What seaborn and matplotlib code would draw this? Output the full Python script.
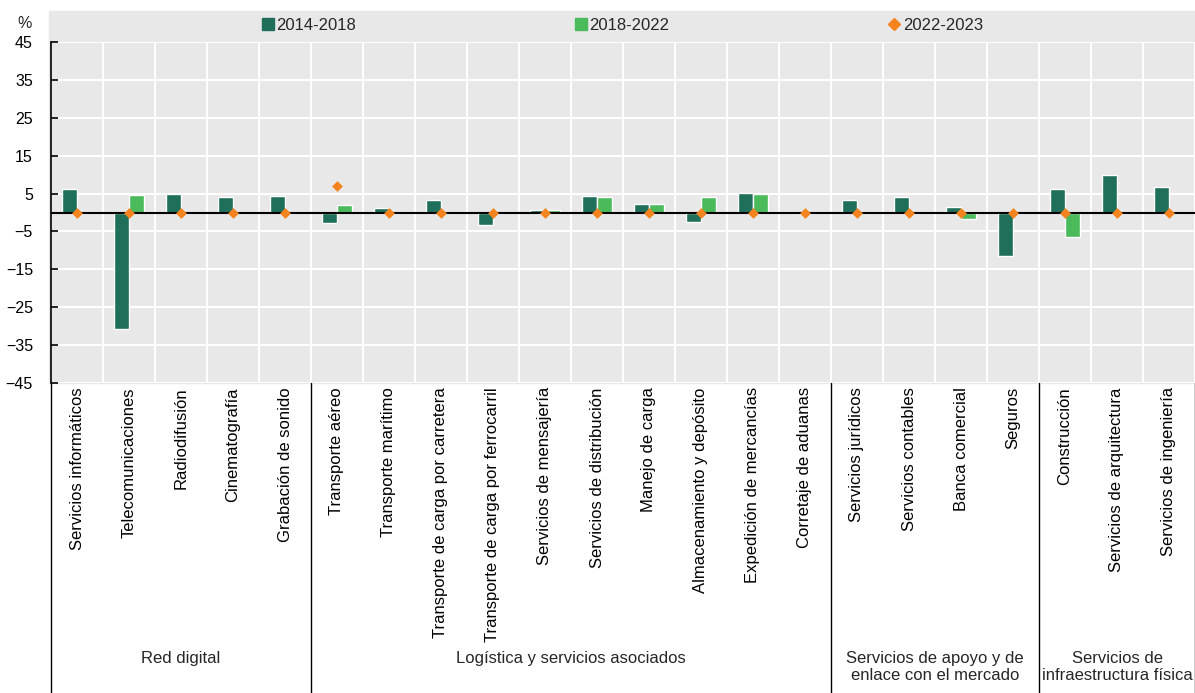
import numpy as np
import pandas as pd
import seaborn as sns
import matplotlib.pyplot as plt
from matplotlib.lines import Line2D
from matplotlib.patches import Rectangle

categories = [
    "Servicios informáticos", "Telecomunicaciones", "Radiodifusión", "Cinematografía",
    "Grabación de sonido", "Transporte aéreo", "Transporte marítimo",
    "Transporte de carga por carretera", "Transporte de carga por ferrocarril",
    "Servicios de mensajería", "Servicios de distribución", "Manejo de carga",
    "Almacenamiento y depósito", "Expedición de mercancías", "Corretaje de aduanas",
    "Servicios jurídicos", "Servicios contables", "Banca comercial", "Seguros",
    "Construcción", "Servicios de arquitectura", "Servicios de ingeniería",
]
group_names = [
    "Red digital", "Logística y servicios asociados",
    "Servicios de apoyo y de\nenlace con el mercado", "Servicios de\ninfraestructura física",
]
group_sizes = [5, 10, 4, 3]
periods = ["2014-2018", "2018-2022", "2022-2023"]

v_2014_2018 = [6.3, -30.8, 4.9, 4.2, 4.4, -2.8, 1.2, 3.2, -3.2, 0.7, 4.4,
               2.2, -2.6, 5.1, 0.0, 3.4, 4.2, 1.4, -11.4, 6.1, 9.8, 6.6]
v_2018_2022 = [0.0, 4.7, 0.0, 0.0, 0.0, 1.9, 0.0, 0.0, 0.0, 0.7, 4.1,
               2.2, 4.2, 4.8, 0.0, 0.0, 0.0, -1.6, 0.0, -6.5, 0.0, 0.0]
v_2022_2023 = [0.0, 0.0, 0.0, 0.0, 0.0, 6.9, 0.0, 0.0, 0.0, 0.0, 0.0,
               0.0, 0.0, 0.0, 0.0, 0.0, 0.0, 0.0, 0.0, 0.0, 0.0, 0.0]

DARK = "#1f6f5a"
LIGHT = "#4bba5a"
ORANGE = "#f5841f"
BG = "#e8e8e8"

sns.set_theme(style="white")
plt.rcParams["font.family"] = ["Liberation Sans", "DejaVu Sans"]

W, H = 1195, 693
fig = plt.figure(figsize=(W / 100, H / 100), dpi=100)
ax = fig.add_axes([51 / W, 1 - 383 / H, (W - 51) / W, 341 / H])
ax.set_facecolor(BG)
fig.patches.append(Rectangle((49 / W, 1 - 383 / H), 1, (383 - 11) / H,
                             transform=fig.transFigure, color=BG, zorder=-1))

df = pd.DataFrame({
    "cat": categories * 2,
    "period": [periods[0]] * len(categories) + [periods[1]] * len(categories),
    "val": v_2014_2018 + v_2018_2022,
})
sns.barplot(df, x="cat", y="val", hue="period", palette=[DARK, LIGHT],
            width=0.56, saturation=1, legend=False, ax=ax, zorder=3)
ax.axhline(0, color="black", lw=1.5, zorder=4)
sns.stripplot(x=categories, y=v_2022_2023, marker="D", color=ORANGE, size=5.5,
              jitter=False, linewidth=0, ax=ax, zorder=5)

n = len(categories)
ax.set_xlim(-0.5, n - 0.5)
ax.set_ylim(-45, 45)
ax.set_yticks(np.arange(-45, 46, 10))
ax.set_xticks(np.arange(-0.5, n, 1), minor=True)
ax.set_axisbelow(True)
ax.yaxis.grid(True, color="white", lw=1.5)
ax.grid(which="minor", axis="x", color="white", lw=1.5)
ax.set_xlabel("")
ax.set_ylabel("")

for s in ["top", "right", "bottom"]:
    ax.spines[s].set_visible(False)
ax.spines["left"].set_color("black")
ax.spines["left"].set_linewidth(1.2)
ax.tick_params(axis="y", direction="in", length=5, width=1.2, color="black",
               pad=13, labelsize=11.5, labelcolor="black", left=True)
ax.tick_params(axis="x", which="both", length=0, pad=3, labelsize=12,
               labelcolor="black", labelrotation=90)

fig.text(17 / W, 1 - 23 / H, "%", fontsize=11.5, va="center")

# group separators and labels below the axis
bounds = np.cumsum([0] + group_sizes) - 0.5
tr = ax.get_xaxis_transform()
ybot = -(H - 383) / 341
for b in bounds:
    ax.plot([b, b], [0, ybot], transform=tr, color="black", lw=1, clip_on=False)
for i, name in enumerate(group_names):
    xc = (bounds[i] + bounds[i + 1]) / 2
    ax.text(xc, -(651 - 383) / 341, name, transform=tr, ha="center", va="top",
            fontsize=12, linespacing=1.2)

handles = [
    Line2D([], [], marker="s", ls="", color=DARK, markersize=9),
    Line2D([], [], marker="s", ls="", color=LIGHT, markersize=9),
    Line2D([], [], marker="D", ls="", color=ORANGE, markersize=6),
]
ax.legend(handles, periods, loc="center", bbox_to_anchor=(0.5, (383 - 25) / 341),
          ncol=3, frameon=False, columnspacing=13.2, handlelength=0.6,
          handletextpad=0.2, prop={"size": 12})

fig.savefig("out.png", dpi=100)
